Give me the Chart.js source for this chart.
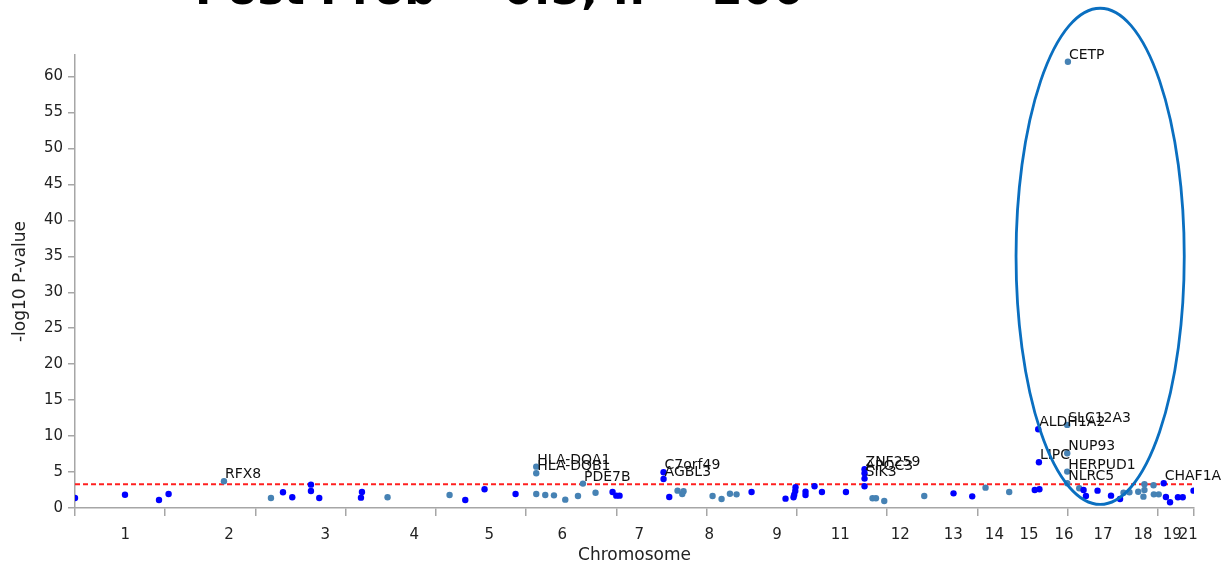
<!DOCTYPE html>
<html>
<head>
<meta charset="utf-8">
<title>Manhattan plot</title>
<script src="https://cdn.jsdelivr.net/npm/chart.js@4.4.1/dist/chart.umd.min.js"></script>
<style>
  html, body { margin: 0; padding: 0; background: #fff; }
  #wrap { width: 1222px; height: 565px; }
</style>
</head>
<body>
<div id="wrap"><canvas id="manhattan" width="1222" height="565"></canvas></div>
<script>
// chromosome names and the centre of each on the cumulative position axis
const chromLabels  = ['1', '2', '3', '4', '5', '6', '7', '8', '9', '11', '12', '13', '14', '15', '16', '17', '18', '19', '21'];
const chromCenters = [139, 427, 693, 940, 1148, 1350, 1563, 1757, 1945, 2120, 2286, 2433, 2547, 2643, 2740, 2848, 2959, 3040, 3084];

// plain tick marks along the position axis (no labels)
const positionTicks = [0, 250, 500, 750, 1000, 1250, 1500, 1750, 2000, 2250, 2500, 2750, 3000, 3100];

// one entry per SNP
const pointChrom = [
  1, 1, 1, 1,
  2, 2,
  3, 3, 3, 3, 3, 3, 3,
  4, 4,
  5, 5, 5,
  6, 6, 6, 6, 6, 6, 6, 6, 6,
  7, 7, 7, 7, 7, 7,
  8, 8, 8, 8, 8, 8, 8,
  9, 9, 9, 9, 9, 9, 9, 9,
  11, 11, 11, 11, 11, 11, 11,
  12, 12, 12, 12,
  13, 13,
  14, 14,
  15, 15, 15, 15,
  16, 16, 16, 16, 16, 16,
  17, 17, 17, 17, 17,
  18, 18, 18, 18, 18, 18, 18, 18, 18,
  19, 19, 19, 19, 19,
  21
];
const pointPos = [
  0, 138.5, 232.7, 259.3,
  412.7, 542.9,
  576.2, 601.9, 653.7, 653.7, 676.7, 795.0, 792.2,
  865.9, 1037.7,
  1081.2, 1134.6, 1220.5,
  1277.8, 1277.8, 1277.8, 1302.8, 1326.9, 1358.2, 1393.4, 1407.2, 1442.1,
  1489.2, 1499.5, 1508.6, 1630.5, 1630.5, 1646.3,
  1669.3, 1682.3, 1685.9, 1766.3, 1791.2, 1814.4, 1832.7,
  1874.3, 1968.4, 1990.6, 1992.5, 1995.3, 1996.1, 2023.8, 2023.8,
  2048.8, 2069.3, 2135.8, 2187.3, 2187.3, 2187.3, 2187.3,
  2209.4, 2218.9, 2241.9, 2352.7,
  2433.8, 2485.6,
  2522.5, 2588.1,
  2658.8, 2671.8, 2668.4, 2670.4,
  2750.7, 2748.8, 2748.8, 2748.8, 2748.8, 2782.1,
  2794.0, 2800.6, 2832.8, 2870.1, 2895.1,
  2904.8, 2921.1, 2945.5, 2959.9, 2962.7, 2962.7, 2987.9, 2988.7, 3002.3,
  3016.1, 3022.2, 3033.6, 3055.5, 3068.8,
  3098.7
];
const pointLogP = [
  1.39, 1.85, 1.11, 1.95,
  3.72, 1.39,
  2.18, 1.49, 3.25, 2.37, 1.39, 2.23, 1.44,
  1.49, 1.81,
  1.11, 2.60, 1.95,
  1.95, 5.75, 4.83, 1.81, 1.76, 1.16, 1.67, 3.39, 2.13,
  2.23, 1.72, 1.72, 4.97, 4.04, 1.53,
  2.41, 1.95, 2.32, 1.67, 1.25, 1.99, 1.90,
  2.23, 1.30, 1.49, 1.86, 2.37, 2.88, 2.27, 1.81,
  3.02, 2.23, 2.23, 5.39, 4.83, 4.09, 3.02,
  1.35, 1.35, 0.97, 1.67,
  2.04, 1.62,
  2.83, 2.23,
  2.51, 2.60, 10.96, 6.36,
  62.07, 11.56, 7.61, 5.06, 3.45, 2.74,
  2.51, 1.67, 2.41, 1.72, 1.25,
  2.13, 2.18, 2.27, 1.58, 3.30, 2.51, 3.16, 1.90, 1.90,
  3.44, 1.53, 0.79, 1.49, 1.49,
  2.41
];
const pointGene = [
  '', '', '', '',
  'RFX8', '',
  '', '', '', '', '', '', '',
  '', '',
  '', '', '',
  '', 'HLA-DQA1', 'HLA-DQB1', '', '', '', '', 'PDE7B', '',
  '', '', '', 'C7orf49', 'AGBL3', '',
  '', '', '', '', '', '', '',
  '', '', '', '', '', '', '', '',
  '', '', '', 'ZNF259', 'APOC3', 'SIK3', '',
  '', '', '', '',
  '', '',
  '', '',
  '', '', 'ALDH1A2', 'LIPC',
  'CETP', 'SLC12A3', 'NUP93', 'HERPUD1', 'NLRC5', '',
  '', '', '', '', '',
  '', '', '', '', '', '', '', '', '',
  'CHAF1A', '', '', '', '',
  ''
];

const threshold = 3.3;
const titleText = 'Post Prob = 0.5, n = 200';

// highlight ring round the chr16 hits, in data units
const ring = { x: 2840, y: 35.0, rx: 233, ry: 34.5 };

const FONT = '"DejaVu Sans"';
const axisGray = '#a6a6a6';

const annotations = {
  id: 'annotations',
  afterDatasetsDraw(chart) {
    const ctx = chart.ctx;
    const x = chart.scales.x, y = chart.scales.y;
    ctx.save();

    // gene names
    ctx.font = '14px ' + FONT;
    ctx.fillStyle = '#111';
    ctx.textAlign = 'left';
    ctx.textBaseline = 'alphabetic';
    pointGene.forEach(function (g, i) {
      if (!g) return;
      ctx.fillText(g, x.getPixelForValue(pointPos[i]) + 1, y.getPixelForValue(pointLogP[i]) - 3);
    });

    // ring
    const cx = x.getPixelForValue(ring.x);
    const cy = y.getPixelForValue(ring.y);
    const rx = x.getPixelForValue(ring.x + ring.rx) - cx;
    const ry = cy - y.getPixelForValue(ring.y + ring.ry);
    ctx.beginPath();
    ctx.ellipse(cx, cy, rx, ry, 0, 0, Math.PI * 2);
    ctx.strokeStyle = '#0a6fc0';
    ctx.lineWidth = 2.8;
    ctx.stroke();

    // big title, mostly cut off by the top edge
    ctx.font = 'bold 44px ' + FONT;
    ctx.fillStyle = '#000';
    ctx.fillText(titleText, 195, 4);

    ctx.restore();
  }
};

let ctx = document.getElementById('manhattan').getContext('2d');

let points = pointPos.map(function (p, i) {
  return { x: p, y: pointLogP[i] };
});
let colors = pointChrom.map(function (c) {
  return c % 2 === 1 ? '#0000ff' : '#4682b4';
});

new Chart(ctx, {
  type: 'scatter',
  data: {
    datasets: [
      {
        data: points,
        backgroundColor: colors,
        borderWidth: 0,
        pointRadius: 3.2,
        pointHoverRadius: 3.2
      },
      {
        type: 'line',
        data: [{ x: 0, y: threshold }, { x: 3100, y: threshold }],
        borderColor: '#ff2020',
        borderWidth: 1.8,
        borderDash: [5, 3],
        pointRadius: 0,
        fill: false
      }
    ]
  },
  options: {
    responsive: false,
    animation: false,
    devicePixelRatio: 1,
    layout: { padding: { left: 0, right: 28, top: 55, bottom: 0 } },
    plugins: {
      legend: { display: false },
      tooltip: { enabled: false }
    },
    scales: {
      x: {
        type: 'linear',
        position: 'bottom',
        weight: 0,
        min: 0,
        max: 3100,
        afterBuildTicks: function (scale) {
          scale.ticks = positionTicks.map(function (v) { return { value: v }; });
        },
        afterFit: function (scale) { scale.height = 8; },
        grid: { drawOnChartArea: false, tickLength: 8, color: axisGray, lineWidth: 1.5 },
        border: { color: axisGray, width: 1.5 },
        ticks: { callback: function () { return ''; }, padding: 0 }
      },
      chr: {
        type: 'linear',
        position: 'bottom',
        axis: 'x',
        weight: 1,
        min: 0,
        max: 3100,
        afterBuildTicks: function (scale) {
          scale.ticks = chromCenters.map(function (v) { return { value: v }; });
        },
        afterFit: function (scale) { scale.height = 49; },
        grid: { display: false, drawTicks: false },
        border: { display: false },
        ticks: {
          autoSkip: false,
          maxRotation: 0,
          minRotation: 0,
          padding: 10,
          color: '#222',
          font: { family: FONT, size: 15 },
          callback: function (value, index) { return chromLabels[index]; }
        },
        title: {
          display: true,
          text: 'Chromosome',
          color: '#222',
          font: { family: FONT, size: 17 },
          padding: { top: 0, bottom: -1 }
        }
      },
      y: {
        min: 0,
        max: 63,
        afterFit: function (scale) { scale.width = 75; },
        grid: { drawOnChartArea: false, tickLength: 7, color: axisGray, lineWidth: 1.5 },
        border: { color: axisGray, width: 1.5 },
        ticks: {
          stepSize: 5,
          includeBounds: false,
          padding: 5,
          color: '#222',
          font: { family: FONT, size: 15 }
        },
        title: {
          display: true,
          text: '-log10 P-value',
          color: '#222',
          font: { family: FONT, size: 17 },
          padding: { top: 10, bottom: 0 }
        }
      }
    }
  },
  plugins: [annotations]
});
</script>
</body>
</html>
